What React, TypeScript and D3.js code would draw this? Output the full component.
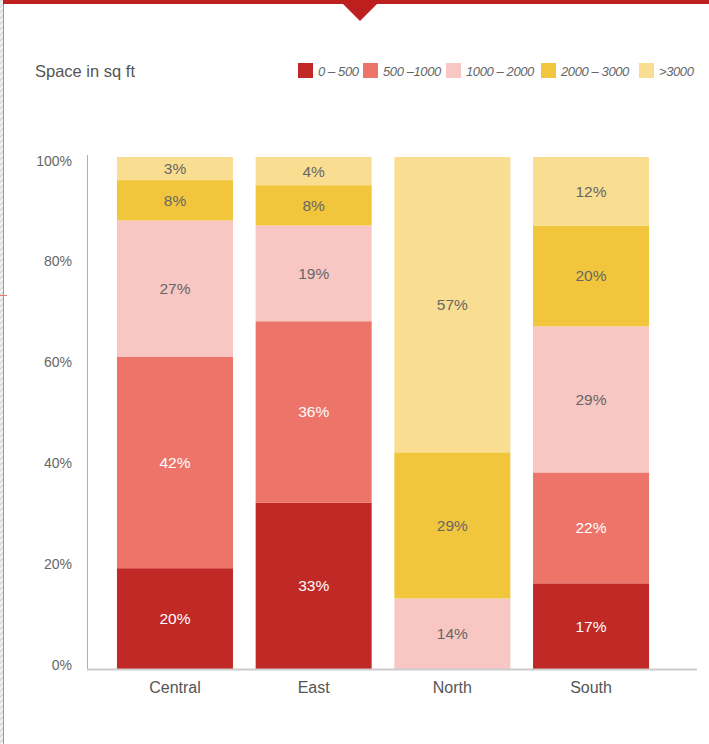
import React from "react";
import * as d3 from "d3";

const regions = ["Central", "East", "North", "South"];
const sizeBands = ["0 – 500", "500 –1000", "1000 – 2000", "2000 – 3000", ">3000"];
const band0to500 = [20, 33, 0, 17];
const band500to1000 = [42, 36, 0, 22];
const band1000to2000 = [27, 19, 14, 29];
const band2000to3000 = [8, 8, 29, 20];
const bandOver3000 = [3, 4, 57, 12];
const yTicks = [0, 20, 40, 60, 80, 100];

const bandColors = ["#c02926", "#ed7469", "#f9c7c3", "#f2c63c", "#f9de92"];
const lightText = [true, true, false, false, false];

const W = 709;
const H = 744;
const plotLeft = 87;
const plotRight = 697;
const plotBottom = 669;
const plotTop = 157;

export default function App() {
  const series = [band0to500, band500to1000, band1000to2000, band2000to3000, bandOver3000];
  const rows = regions.map((r, i) => {
    const o: any = { region: r };
    sizeBands.forEach((b, k) => (o[b] = series[k][i]));
    return o;
  });
  const stack = d3.stack<any>().keys(sizeBands)(rows);

  const x = d3
    .scaleBand<string>()
    .domain(regions)
    .range([plotLeft, 679])
    .paddingInner(0.1635)
    .paddingOuter(0.216);
  const y = d3.scaleLinear().domain([0, 100]).range([plotBottom, 165]);

  const font = "'Liberation Sans', Arial, Helvetica, sans-serif";

  const legendX = [298, 363, 446, 541, 639];

  return (
    <div style={{ position: "absolute", left: 0, top: 0 }}>
      <svg width={W} height={H} style={{ display: "block", fontFamily: font }}>
        <defs>
          <pattern id="hatch" width="4" height="4" patternUnits="userSpaceOnUse" patternTransform="rotate(45)">
            <rect width="4" height="4" fill="#f4f4f4" />
            <rect width="2" height="4" fill="#dcdcdc" />
          </pattern>
        </defs>
        <rect x={0} y={0} width={W} height={H} fill="#ffffff" />
        <rect x={0} y={0} width={3} height={H} fill="url(#hatch)" />
        <line x1={3.5} y1={0} x2={3.5} y2={H} stroke="#e08070" strokeWidth={1} />
        <line x1={0} y1={295.5} x2={7} y2={295.5} stroke="#e08070" strokeWidth={1} />
        <rect x={3} y={0} width={W - 3} height={4} fill="#bd1e1e" />
        <path d="M343,4 L377,4 L360,21 Z" fill="#bd1e1e" />

        <text x={35} y={77} fontSize={16.5} fill="#555">
          Space in sq ft
        </text>

        {sizeBands.map((b, k) => (
          <g key={b} transform={`translate(${legendX[k]},63)`}>
            <rect width={15} height={15} fill={bandColors[k]} />
            <text x={20} y={12.5} fontSize={13} fontStyle="italic" fill="#666" letterSpacing={-0.4}>
              {b}
            </text>
          </g>
        ))}

        {yTicks.map((t) => (
          <text key={t} x={72} y={y(t)} dy={0.5} fontSize={14} fill="#666" textAnchor="end">
            {t}%
          </text>
        ))}

        {stack.map((s, k) =>
          s.map((d: any, i: number) => {
            const v = d[1] - d[0];
            if (v <= 0) return null;
            const isTop = k === stack.length - 1;
            const y0 = y(d[0]);
            const y1 = isTop ? plotTop : y(d[1]);
            const xb = x(regions[i]) as number;
            return (
              <g key={`${k}-${i}`}>
                <rect x={xb} y={y1} width={x.bandwidth()} height={y0 - y1} fill={bandColors[k]} />
                <text
                  x={xb + x.bandwidth() / 2}
                  y={(y0 + y1) / 2 + 5.5}
                  fontSize={15.5}
                  textAnchor="middle"
                  fill={lightText[k] ? "#ffffff" : "#666"}
                >
                  {v}%
                </text>
              </g>
            );
          })
        )}

        <line x1={plotLeft + 0.5} y1={155} x2={plotLeft + 0.5} y2={plotBottom} stroke="#b0b0b0" strokeWidth={1} />
        <line x1={plotLeft} y1={plotBottom + 0.5} x2={plotRight} y2={plotBottom + 0.5} stroke="#cccccc" strokeWidth={2} />

        {regions.map((r) => (
          <text
            key={r}
            x={(x(r) as number) + x.bandwidth() / 2}
            y={693}
            fontSize={16}
            textAnchor="middle"
            fill="#555"
          >
            {r}
          </text>
        ))}
      </svg>
    </div>
  );
}
